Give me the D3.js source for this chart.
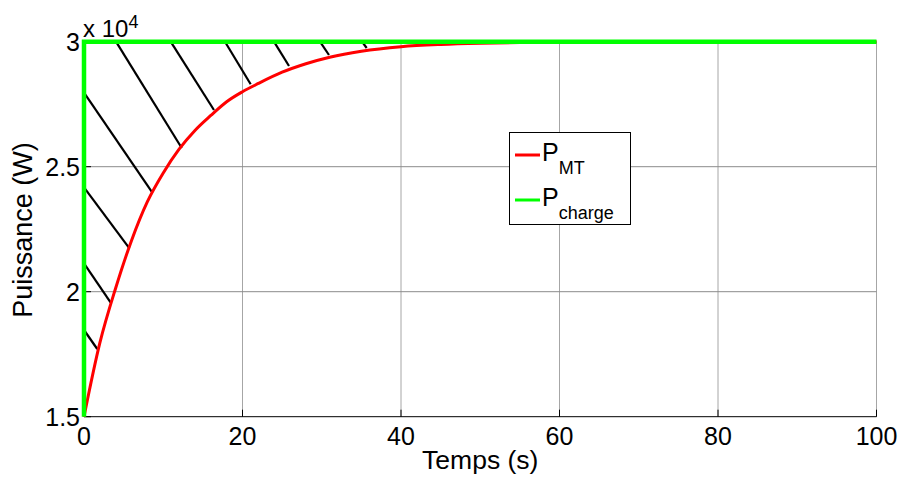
<!DOCTYPE html>
<html>
<head>
<meta charset="utf-8">
<script src="https://cdn.jsdelivr.net/npm/d3@7"></script>
<style>
body{margin:0;background:#fff;}
text{font-family:Arial,"Liberation Sans",sans-serif;fill:#000;}
</style>
</head>
<body>
<svg id="chart" width="901" height="480"></svg>
<script>
// ---- data ----
const tMT = [0, 2, 4, 6, 8, 10, 12, 14, 16, 18, 20, 22, 25, 28, 31, 35, 40, 45, 50, 55, 60, 70, 100];
const pMT = [15000, 17950, 20150, 22050, 23600, 24750, 25700, 26450, 27050, 27600, 28000, 28330, 28780, 29120, 29380, 29620, 29800, 29890, 29940, 29968, 29984, 29996, 30000];
const tCharge = [0, 0, 100];
const pCharge = [15000, 30000, 30000];
// hatch segments: start time, start power, end time, end power
const hatchT0 = [4.04, 10.94, 17.79, 23.97, 29.78, 35.08, 0, 0, 0, 0];
const hatchP0 = [30000, 30000, 30000, 30000, 30000, 30000, 27960, 24176, 21136, 18468];
const hatchT1 = [12.33, 16.4, 21.03, 25.87, 30.91, 35.67, 8.54, 5.73, 3.37, 1.67];
const hatchP1 = [25748, 27268, 28296, 29028, 29468, 29748, 24000, 21736, 19560, 17708];
const xTicks = [0, 20, 40, 60, 80, 100];
const yTicks = [15000, 20000, 25000, 30000];
const yTickLabels = ["1.5", "2", "2.5", "3"];
const seriesNames = ["MT", "charge"];
const seriesColors = ["#ff0000", "#00ff00"];

// ---- layout ----
const svg = d3.select("#chart");
const x = d3.scaleLinear().domain([0, 100]).range([84, 876.5]);
const y = d3.scaleLinear().domain([15000, 30000]).range([416.7, 41.7]);

// grid
const g = svg.append("g");
g.selectAll(".vg").data(xTicks.slice(1)).enter().append("line")
  .attr("x1", d => x(d)).attr("x2", d => x(d))
  .attr("y1", y(15000)).attr("y2", y(30000))
  .attr("stroke", "#a6a6a6").attr("stroke-width", 1);
g.selectAll(".hg").data(yTicks.slice(1)).enter().append("line")
  .attr("x1", x(0)).attr("x2", x(100))
  .attr("y1", d => y(d)).attr("y2", d => y(d))
  .attr("stroke", "#8c8c8c").attr("stroke-width", 1);

// axes lines + ticks (inward)
g.append("line").attr("x1", x(0)).attr("x2", x(100)).attr("y1", y(15000)).attr("y2", y(15000))
  .attr("stroke", "#000").attr("stroke-width", 1);
g.append("line").attr("x1", x(0)).attr("x2", x(0)).attr("y1", y(15000)).attr("y2", y(30000))
  .attr("stroke", "#000").attr("stroke-width", 1);
g.selectAll(".xt").data(xTicks).enter().append("line")
  .attr("x1", d => x(d)).attr("x2", d => x(d))
  .attr("y1", y(15000)).attr("y2", y(15000) - 7)
  .attr("stroke", "#000").attr("stroke-width", 1);
g.selectAll(".yt").data(yTicks).enter().append("line")
  .attr("x1", x(0)).attr("x2", x(0) + 7)
  .attr("y1", d => y(d)).attr("y2", d => y(d))
  .attr("stroke", "#000").attr("stroke-width", 1);

// tick labels
g.selectAll(".xl").data(xTicks).enter().append("text")
  .attr("x", d => x(d)).attr("y", 445)
  .attr("text-anchor", "middle").attr("font-size", 25).text(d => d);
g.selectAll(".yl").data(yTicks).enter().append("text")
  .attr("x", 80).attr("y", d => y(d) + 9)
  .attr("text-anchor", "end").attr("font-size", 25).text((d, i) => yTickLabels[i]);

// multiplier
const mult = g.append("text").attr("x", 83).attr("y", 37).attr("font-size", 24);
mult.append("tspan").text("x 10");
mult.append("tspan").attr("font-size", 18).attr("dy", -9).text("4");

// axis titles
g.append("text").attr("x", x(50)).attr("y", 469).attr("text-anchor", "middle")
  .attr("font-size", 26.5).text("Temps (s)");
g.append("text").attr("transform", "translate(31.5,230) rotate(-90)")
  .attr("text-anchor", "middle").attr("font-size", 27).text("Puissance (W)");

// hatch lines
g.selectAll(".hatch").data(hatchT0).enter().append("line")
  .attr("x1", (d, i) => x(hatchT0[i])).attr("y1", (d, i) => y(hatchP0[i]))
  .attr("x2", (d, i) => x(hatchT1[i])).attr("y2", (d, i) => y(hatchP1[i]))
  .attr("stroke", "#000").attr("stroke-width", 2.2);

// series
const line = d3.line().x(d => x(d[0])).y(d => y(d[1]));
g.append("path").datum(tMT.map((t, i) => [t, pMT[i]]))
  .attr("d", d3.line().curve(d3.curveMonotoneX).x(d => x(d[0])).y(d => y(d[1])))
  .attr("fill", "none").attr("stroke", seriesColors[0]).attr("stroke-width", 3);
g.append("path").datum(tCharge.map((t, i) => [t, pCharge[i]]))
  .attr("d", line)
  .attr("fill", "none").attr("stroke", seriesColors[1]).attr("stroke-width", 4.5);

// legend
const lg = g.append("g");
lg.append("rect").attr("x", 509.5).attr("y", 132.5).attr("width", 121).attr("height", 92)
  .attr("fill", "#fff").attr("stroke", "#000").attr("stroke-width", 1);
const rows = [155, 200];
seriesNames.forEach((n, i) => {
  lg.append("line").attr("x1", 515).attr("x2", 540).attr("y1", rows[i]).attr("y2", rows[i])
    .attr("stroke", seriesColors[i]).attr("stroke-width", 3);
  const t = lg.append("text").attr("x", 542).attr("y", rows[i] + 6).attr("font-size", 25);
  t.append("tspan").text("P");
  t.append("tspan").attr("font-size", 18).attr("dy", 13).text(n);
});
</script>
</body>
</html>
